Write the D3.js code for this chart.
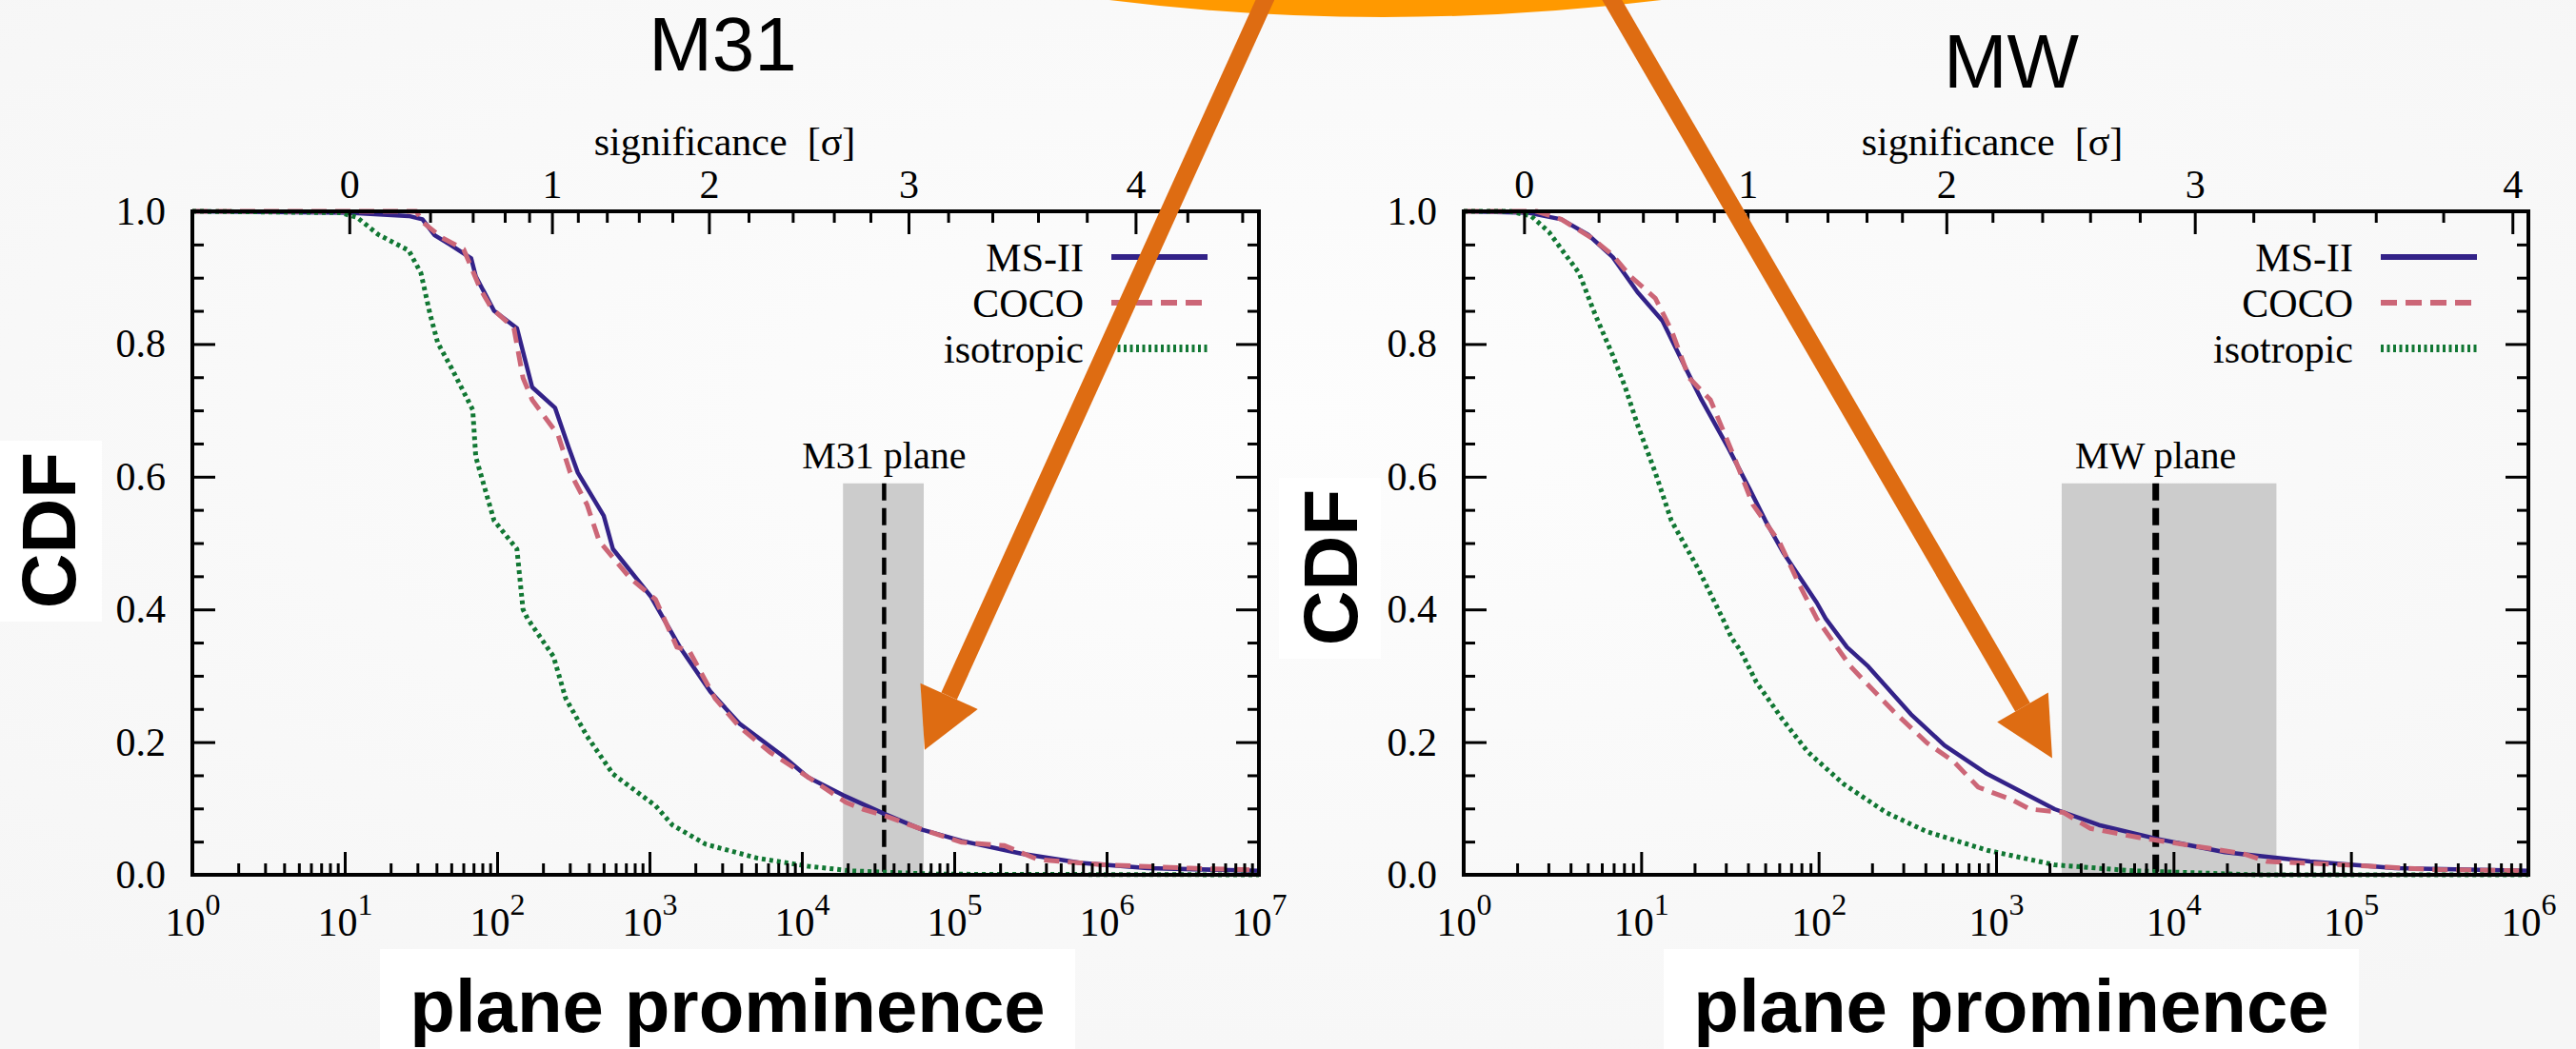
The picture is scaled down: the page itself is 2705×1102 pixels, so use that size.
<!DOCTYPE html>
<html>
<head>
<meta charset="utf-8">
<script src="https://cdn.jsdelivr.net/npm/d3@7"></script>
<style>
  body { margin: 0; background: #f9f9f9; }
  svg { display: block; }
</style>
</head>
<body>
<svg id="fig" width="2705" height="1102"></svg>
<script>
// ---- data (x values are log10 of plane prominence) ----
const cdfMajor = [0, 0.2, 0.4, 0.6, 0.8, 1.0];
const sigmaLabels = [0, 1, 2, 3, 4];
const sigmaSteps = [0, 0.2, 0.4, 0.6, 0.8, 1, 1.2, 1.4, 1.6, 1.8, 2, 2.2, 2.4, 2.6, 2.8, 3, 3.2, 3.4, 3.6, 3.8, 4, 4.2, 4.4];
// log10 prominence that corresponds to each sigma step
const m31SigmaLogP = [1.03, 1.56, 1.84, 2.05, 2.21, 2.36, 2.53, 2.72, 2.93, 3.15, 3.39, 3.65, 3.94, 4.21, 4.45, 4.70, 4.96, 5.25, 5.55, 5.87, 6.19, 6.53, 6.89];
const mwSigmaLogP = [0.34, 0.76, 1.01, 1.20, 1.41, 1.60, 1.82, 2.05, 2.27, 2.47, 2.72, 2.98, 3.26, 3.53, 3.81, 4.12, 4.45, 4.79, 5.14, 5.52, 5.91];

const seriesNames = ["MS-II", "COCO", "isotropic"];

const m31MsII = [[0, 1.0], [1.03, 0.998], [1.42, 0.993], [1.51, 0.988], [1.59, 0.964], [1.69, 0.95], [1.83, 0.929], [1.86, 0.902], [1.98, 0.85], [2.13, 0.824], [2.23, 0.735], [2.38, 0.704], [2.47, 0.644], [2.53, 0.606], [2.70, 0.541], [2.76, 0.491], [3.01, 0.419], [3.20, 0.343], [3.40, 0.276], [3.59, 0.228], [3.87, 0.18], [4.04, 0.147], [4.27, 0.12], [4.54, 0.092], [4.79, 0.068], [5.05, 0.051], [5.44, 0.032], [5.83, 0.018], [6.27, 0.01], [7.0, 0.006]];
const m31Coco = [[0, 1.0], [1.47, 1.0], [1.51, 0.984], [1.64, 0.96], [1.78, 0.943], [1.89, 0.883], [1.96, 0.855], [2.11, 0.824], [2.17, 0.749], [2.23, 0.716], [2.40, 0.663], [2.48, 0.606], [2.59, 0.558], [2.67, 0.503], [2.87, 0.448], [3.04, 0.415], [3.18, 0.343], [3.26, 0.338], [3.43, 0.266], [3.59, 0.223], [3.79, 0.185], [4.01, 0.152], [4.29, 0.109], [4.40, 0.099], [4.57, 0.087], [4.77, 0.07], [5.05, 0.049], [5.33, 0.044], [5.55, 0.023], [5.99, 0.015], [6.55, 0.01], [7.0, 0.007]];
const m31Iso = [[0, 1.0], [0.97, 0.998], [1.08, 0.991], [1.22, 0.965], [1.42, 0.941], [1.50, 0.907], [1.56, 0.845], [1.61, 0.802], [1.70, 0.764], [1.84, 0.701], [1.86, 0.63], [1.92, 0.582], [1.98, 0.534], [2.13, 0.491], [2.17, 0.40], [2.20, 0.386], [2.37, 0.329], [2.45, 0.266], [2.59, 0.209], [2.76, 0.152], [3.04, 0.104], [3.15, 0.075], [3.37, 0.046], [3.71, 0.025], [4.04, 0.013], [4.32, 0.006], [4.88, 0.001], [7.0, 0.0]];

const mwMsII = [[0, 1.0], [0.36, 0.998], [0.55, 0.988], [0.70, 0.965], [0.84, 0.931], [0.98, 0.878], [1.12, 0.835], [1.25, 0.764], [1.34, 0.716], [1.49, 0.644], [1.61, 0.582], [1.70, 0.534], [1.80, 0.486], [1.99, 0.41], [2.04, 0.386], [2.16, 0.343], [2.28, 0.314], [2.52, 0.242], [2.71, 0.195], [2.95, 0.152], [3.33, 0.099], [3.58, 0.075], [3.91, 0.054], [4.29, 0.034], [4.77, 0.02], [5.25, 0.01], [6.0, 0.006]];
const mwCoco = [[0, 1.0], [0.41, 1.0], [0.55, 0.988], [0.72, 0.96], [0.84, 0.934], [0.94, 0.902], [1.08, 0.869], [1.17, 0.821], [1.27, 0.749], [1.39, 0.716], [1.51, 0.639], [1.63, 0.558], [1.78, 0.501], [1.89, 0.438], [1.99, 0.386], [2.09, 0.348], [2.18, 0.314], [2.42, 0.247], [2.61, 0.199], [2.76, 0.171], [2.90, 0.132], [3.09, 0.113], [3.19, 0.099], [3.38, 0.094], [3.53, 0.07], [3.81, 0.056], [4.15, 0.042], [4.39, 0.032], [4.53, 0.02], [4.97, 0.015], [5.45, 0.008], [6.0, 0.006]];
const mwIso = [[0, 1.0], [0.26, 1.0], [0.38, 0.993], [0.48, 0.969], [0.57, 0.936], [0.65, 0.907], [0.74, 0.845], [0.84, 0.783], [0.91, 0.735], [0.98, 0.678], [1.08, 0.606], [1.17, 0.534], [1.32, 0.462], [1.46, 0.386], [1.51, 0.357], [1.56, 0.338], [1.65, 0.29], [1.80, 0.233], [1.94, 0.185], [2.14, 0.137], [2.38, 0.094], [2.61, 0.065], [2.95, 0.037], [3.33, 0.015], [3.77, 0.006], [4.48, 0.0], [6.0, 0.0]];

// observed plane: [band low, plane value, band high] in log10 prominence, band height in CDF
const m31Plane = [4.27, 4.54, 4.80];
const mwPlane = [3.37, 3.90, 4.58];
const planeBandTop = 0.59;

// ---- styles ----
const serif = "'Liberation Serif', 'Times New Roman', serif";
const sans = "'Liberation Sans', Arial, Helvetica, sans-serif";
const styles = [
  { color: "#332288", width: 4.5, dash: null, legendWidth: 6, legendDash: null },
  { color: "#cc6677", width: 5, dash: "16,9", legendWidth: 6, legendDash: "17,9" },
  { color: "#117733", width: 5, dash: "4,4", legendWidth: 8, legendDash: "3,3.5" }
];

const svg = d3.select("#fig");

// background
const defs = svg.append("defs");
const bg = defs.append("radialGradient").attr("id", "bg").attr("cx", "50%").attr("cy", "40%").attr("r", "70%");
bg.append("stop").attr("offset", "0%").attr("stop-color", "#fdfdfd");
bg.append("stop").attr("offset", "100%").attr("stop-color", "#f6f6f6");
svg.append("rect").attr("width", 2705).attr("height", 1102).attr("fill", "url(#bg)");

function panel(cfg) {
  const g = svg.append("g");
  const x = d3.scaleLog().domain([1, Math.pow(10, cfg.decades)]).range([cfg.left, cfg.right]);
  const y = d3.scaleLinear().domain([0, 1]).range([919, 222]);
  const lp = v => x(Math.pow(10, v));

  // title + axis label boxes
  g.append("text").attr("x", cfg.titleX).attr("y", cfg.titleY)
    .attr("text-anchor", "middle").attr("font-family", sans).attr("font-size", 80)
    .text(cfg.title);

  g.append("rect").attr("x", cfg.cdfBox[0]).attr("y", cfg.cdfBox[1])
    .attr("width", 107).attr("height", 190).attr("fill", "#fff");
  g.append("text").attr("transform", `translate(${cfg.cdfX},${cfg.cdfY}) rotate(-90)`)
    .attr("text-anchor", "middle").attr("font-family", sans).attr("font-weight", "bold")
    .attr("font-size", 80).text("CDF");

  g.append("rect").attr("x", cfg.xlabX - 365).attr("y", 997)
    .attr("width", 730).attr("height", 105).attr("fill", "#fff");
  g.append("text").attr("x", cfg.xlabX).attr("y", 1084)
    .attr("text-anchor", "middle").attr("font-family", sans).attr("font-weight", "bold")
    .attr("font-size", 78).text("plane prominence");

  // observed plane band
  const pl = cfg.plane;
  g.append("rect")
    .attr("x", lp(pl[0])).attr("y", y(planeBandTop))
    .attr("width", lp(pl[2]) - lp(pl[0])).attr("height", y(0) - y(planeBandTop))
    .attr("fill", "#cccccc");
  g.append("line")
    .attr("x1", lp(pl[1])).attr("x2", lp(pl[1]))
    .attr("y1", y(planeBandTop)).attr("y2", y(0))
    .attr("stroke", "#000").attr("stroke-width", cfg.planeWidth).attr("stroke-dasharray", "18,8");
  g.append("text").attr("x", lp(pl[1])).attr("y", y(planeBandTop) - 16)
    .attr("text-anchor", "middle").attr("font-family", serif).attr("font-size", 40)
    .text(cfg.planeLabel);

  // curves
  const line = d3.line().x(d => lp(d[0])).y(d => y(d[1]));
  cfg.series.forEach((s, i) => {
    g.append("path").datum(s).attr("d", line)
      .attr("fill", "none").attr("stroke", styles[i].color)
      .attr("stroke-width", styles[i].width)
      .attr("stroke-dasharray", styles[i].dash)
      .attr("stroke-linejoin", "round");
  });

  // legend
  seriesNames.forEach((name, i) => {
    const ly = 222 + 48 * (i + 1);
    g.append("text").attr("x", cfg.right - 184).attr("y", ly + 15)
      .attr("text-anchor", "end").attr("font-family", serif).attr("font-size", 42)
      .text(name);
    g.append("line").attr("x1", cfg.right - 155).attr("x2", cfg.right - 54)
      .attr("y1", ly).attr("y2", ly)
      .attr("stroke", styles[i].color).attr("stroke-width", styles[i].legendWidth)
      .attr("stroke-dasharray", styles[i].legendDash);
  });

  // axes
  const axisStyle = sel => {
    sel.select(".domain").remove();
    sel.selectAll(".tick line").attr("stroke", "#000").attr("stroke-width", 3);
    sel.selectAll(".tick text").attr("fill", "#000").attr("font-family", serif).attr("font-size", 42);
  };
  const isDecade = d => Math.abs(Math.log10(d) - Math.round(Math.log10(d))) < 1e-9;

  // bottom: log ticks
  g.append("g").attr("transform", `translate(0,${y(0)})`)
    .call(d3.axisBottom(x).tickValues(x.ticks().filter(d => !isDecade(d))).tickSize(-12).tickFormat(""))
    .call(axisStyle);
  const gx = g.append("g").attr("transform", `translate(0,${y(0)})`)
    .call(d3.axisBottom(x).tickValues(x.ticks().filter(isDecade)).tickSize(-24))
    .call(axisStyle);
  gx.selectAll(".tick text").each(function (d) {
    const t = d3.select(this).text(null).attr("y", 64).attr("dy", null);
    t.append("tspan").text("10");
    t.append("tspan").attr("dy", -22).attr("font-size", 32).text(Math.round(Math.log10(d)));
  });

  // left / right: CDF
  const yMinor = d3.range(0, 1.0001, 0.05).filter(v => Math.abs(v * 5 - Math.round(v * 5)) > 1e-6);
  g.append("g").attr("transform", `translate(${cfg.left},0)`)
    .call(d3.axisLeft(y).tickValues(yMinor).tickSize(-12).tickFormat(""))
    .call(axisStyle);
  g.append("g").attr("transform", `translate(${cfg.left},0)`)
    .call(d3.axisLeft(y).tickValues(cdfMajor).tickSize(-24).tickPadding(28).tickFormat(d3.format(".1f")))
    .call(axisStyle);
  g.append("g").attr("transform", `translate(${cfg.right},0)`)
    .call(d3.axisRight(y).tickValues(yMinor).tickSize(-12).tickFormat(""))
    .call(axisStyle);
  g.append("g").attr("transform", `translate(${cfg.right},0)`)
    .call(d3.axisRight(y).tickValues(cdfMajor).tickSize(-24).tickFormat(""))
    .call(axisStyle);

  // top: significance
  const n = cfg.sigmaLogP.length;
  const sig = d3.scaleLinear().domain(sigmaSteps.slice(0, n)).range(cfg.sigmaLogP.map(lp));
  g.append("g").attr("transform", `translate(0,${y(1)})`)
    .call(d3.axisTop(sig).tickValues(sigmaSteps.slice(0, n).filter(v => !sigmaLabels.includes(v))).tickSize(-12).tickFormat(""))
    .call(axisStyle);
  g.append("g").attr("transform", `translate(0,${y(1)})`)
    .call(d3.axisTop(sig).tickValues(sigmaLabels).tickSize(-24).tickPadding(14).tickFormat(d3.format("d")))
    .call(axisStyle);
  g.append("text").attr("x", cfg.sigTitleX).attr("y", 163)
    .attr("text-anchor", "middle").attr("font-family", serif).attr("font-size", 42)
    .attr("xml:space", "preserve").text("significance  [σ]");

  // frame
  g.append("rect").attr("x", cfg.left).attr("y", y(1))
    .attr("width", cfg.right - cfg.left).attr("height", y(0) - y(1))
    .attr("fill", "none").attr("stroke", "#000").attr("stroke-width", 4);
}

panel({
  left: 202, right: 1322, decades: 7,
  title: "M31", titleX: 759, titleY: 74,
  cdfBox: [0, 463], cdfX: 79, cdfY: 557,
  xlabX: 764, sigTitleX: 761,
  sigmaLogP: m31SigmaLogP,
  plane: m31Plane, planeLabel: "M31 plane", planeWidth: 4.5,
  series: [m31MsII, m31Coco, m31Iso]
});
panel({
  left: 1537, right: 2655, decades: 6,
  title: "MW", titleX: 2112, titleY: 92,
  cdfBox: [1343, 502], cdfX: 1425, cdfY: 596,
  xlabX: 2112, sigTitleX: 2092,
  sigmaLogP: mwSigmaLogP,
  plane: mwPlane, planeLabel: "MW plane", planeWidth: 7,
  series: [mwMsII, mwCoco, mwIso]
});

// orange annotation arc and arrows
svg.append("path").attr("d", "M1150,-12 Q1450,28 1760,-12")
  .attr("fill", "none").attr("stroke", "#ff9900").attr("stroke-width", 20);
const arrowColor = "#de6c12";
[
  { start: [1351, -50], base: [996.6, 731.3], tip: [971, 787.8], c1: [1026.7, 744.9], c2: [966.5, 717.7] },
  { start: [1662, -53], base: [2124, 743], tip: [2155, 796.6], c1: [2097.2, 758.6], c2: [2150.8, 727.4] }
].forEach(a => {
  svg.append("line").attr("x1", a.start[0]).attr("y1", a.start[1])
    .attr("x2", a.base[0]).attr("y2", a.base[1])
    .attr("stroke", arrowColor).attr("stroke-width", 18);
  svg.append("polygon").attr("points", [a.tip, a.c1, a.c2].map(p => p.join(",")).join(" "))
    .attr("fill", arrowColor);
});
</script>
</body>
</html>
